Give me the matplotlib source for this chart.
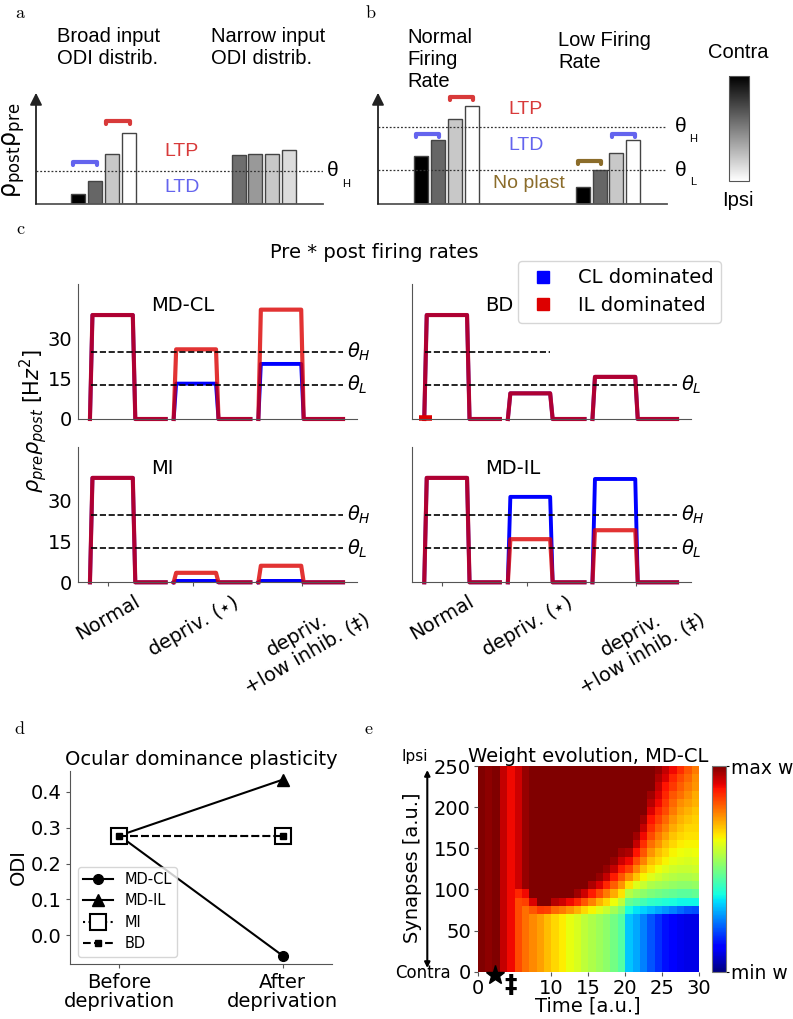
import numpy as np
import matplotlib
matplotlib.use('Agg')
import matplotlib.pyplot as plt
from matplotlib.lines import Line2D
from matplotlib.colors import Normalize
from matplotlib.cm import ScalarMappable

plt.rcParams['font.family'] = ['DejaVu Sans']
plt.rcParams['mathtext.fontset'] = 'dejavusans'
SANS2 = 'Liberation Sans'

# ---------------- data ----------------
# panel a (relative rho_post*rho_pre)
a_broad_pos = [2.5, 3.5, 4.5, 5.5]
a_broad_h = [0.092, 0.211, 0.459, 0.651]
a_narrow_pos = [12, 13, 14, 15]
a_narrow_h = [0.45, 0.459, 0.459, 0.495]
a_theta_H = 0.303
a_broad_colors = ['black', '#666666', '#c8c8c8', 'white']
a_narrow_colors = ['#6e6e6e', '#999999', '#c8c8c8', '#dcdcdc']

# panel b
b_normal_pos = [2.53, 3.53, 4.53, 5.53]
b_normal_h = [0.44, 0.587, 0.78, 0.90]
b_low_pos = [12.06, 13.06, 14.0, 15.0]
b_low_h = [0.156, 0.312, 0.468, 0.587]
b_theta_H = 0.706
b_theta_L = 0.312
b_colors = ['black', '#666666', '#c8c8c8', 'white']

# panel c: pre*post firing rates per condition [Normal, depriv, depriv+low inhib]
cond_labels = ['Normal', 'depriv. ($\\star$)', 'depriv.\n+low inhib. (‡)']
cond_ticks = [3.0, 11.55, 22.5]
cond_rise = [1.2, 9.6, 18.1]
cond_fall = [5.5, 13.85, 22.4]
cond_end = [8.8, 17.3, 26.6]
theta_H = 25.0
theta_L = 12.5
mdcl_cl = [38.5, 13.1, 20.4]
mdcl_il = [38.5, 25.8, 40.5]
bd_cl = [38.5, 9.5, 15.6]
bd_il = [38.5, 9.5, 15.6]
mi_cl = [38.5, 0.5, 0.5]
mi_il = [38.5, 3.5, 6.1]
mdil_cl = [38.5, 31.5, 38.1]
mdil_il = [38.5, 15.9, 19.2]

# panel d
d_xlabels = ['Before\ndeprivation', 'After\ndeprivation']
odi_mdcl = [0.278, -0.057]
odi_mdil = [0.278, 0.434]
odi_mi = [0.278, 0.278]
odi_bd = [0.278, 0.278]

# panel e: weight per time column (30) as runs over 25 synapse bins (bottom->top)
hm_runs = [
    [[1.0, 25]],
    [[0.985, 25]],
    [[1.0, 25]],
    [[0.94, 25]],
    [[0.9, 25]],
    [[0.83, 9], 0.87, [0.93, 15]],
    [[0.79, 8], 0.84, 0.9, [0.98, 15]],
    [[0.765, 7], 0.82, 0.92, [1.0, 16]],
    [[0.74, 7], 0.85, [1.0, 17]],
    [[0.71, 7], 0.84, [1.0, 17]],
    [[0.68, 7], 0.8, 0.95, [1.0, 16]],
    [[0.66, 7], 0.78, 0.93, [1.0, 16]],
    [[0.63, 7], 0.75, 0.9, [1.0, 16]],
    [[0.61, 7], 0.72, 0.87, 0.97, [1.0, 15]],
    [[0.58, 7], 0.68, 0.82, 0.93, [1.0, 15]],
    [[0.56, 7], 0.65, 0.77, 0.88, 0.96, [1.0, 14]],
    [[0.54, 7], 0.62, 0.72, 0.83, 0.92, 0.98, [1.0, 13]],
    [[0.52, 7], 0.59, 0.68, 0.78, 0.87, 0.94, 0.98, [1.0, 12]],
    [[0.49, 7], 0.55, 0.64, 0.73, 0.81, 0.88, 0.94, 0.98, [1.0, 11]],
    [[0.45, 7], 0.5, 0.58, 0.67, 0.75, 0.82, 0.88, 0.93, 0.97, [1.0, 10]],
    [[0.32, 7], 0.38, 0.47, 0.57, 0.67, 0.76, 0.84, 0.9, 0.96, [1.0, 10]],
    [[0.29, 7], 0.35, 0.45, 0.54, 0.62, 0.7, 0.77, 0.83, 0.89, 0.94, 0.97, [1.0, 8]],
    [[0.25, 7], 0.33, 0.43, 0.52, 0.59, 0.65, 0.71, 0.77, 0.82, 0.86, 0.9, 0.94, 0.97, [1.0, 6]],
    [[0.21, 7], 0.31, 0.41, 0.5, 0.56, 0.62, 0.67, 0.71, 0.75, 0.79, 0.83, 0.86, 0.89, 0.92, 0.95, 0.97, [1.0, 3]],
    [[0.17, 7], 0.29, 0.4, 0.49, 0.55, 0.6, 0.64, 0.68, 0.71, 0.75, 0.78, 0.81, 0.84, 0.87, 0.9, 0.92, 0.94, 0.96, 0.98],
    [[0.14, 7], 0.27, 0.39, 0.48, 0.54, 0.58, 0.62, 0.65, 0.68, 0.71, 0.74, 0.77, 0.8, 0.83, 0.85, 0.87, 0.89, 0.92, 0.94],
    [[0.12, 7], 0.25, 0.38, 0.47, 0.53, 0.57, 0.6, 0.63, 0.65, 0.68, 0.7, 0.73, 0.75, 0.78, 0.8, 0.82, 0.85, 0.87, 0.9],
    [[0.10, 7], 0.23, 0.37, 0.46, 0.52, 0.56, 0.59, 0.62, 0.64, 0.66, 0.68, 0.7, 0.72, 0.74, 0.76, 0.79, 0.81, 0.83, 0.86],
    [[0.09, 7], 0.21, 0.37, 0.46, 0.52, 0.56, 0.59, 0.61, 0.63, 0.65, 0.67, 0.68, 0.7, 0.72, 0.74, 0.76, 0.78, 0.8, 0.82],
    [[0.09, 7], 0.2, 0.37, 0.47, 0.53, 0.57, 0.6, 0.62, 0.64, 0.65, 0.67, 0.68, 0.69, 0.7, 0.72, 0.73, 0.75, 0.76, 0.78],
]
hm_time_edges = list(range(31))
hm_syn_edges = list(range(0, 251, 10))

# ---------------- figure ----------------
W, H = 793, 1019
fig = plt.figure(figsize=(W / 100, H / 100), dpi=100)


def add_ax(l, t, r, b):
    return fig.add_axes([l / W, 1 - b / H, (r - l) / W, (b - t) / H])


def ftext(x, y, s, **kw):
    kw.setdefault('ha', 'center')
    kw.setdefault('va', 'center')
    return fig.text(x / W, 1 - y / H, s, **kw)


# panel letters
for lab, (x, y) in zip('abcde', [(20, 13), (371, 13), (21, 229), (20, 729), (369, 729)]):
    ftext(x, y, r'$\mathrm{%s}$' % lab, fontsize=13, math_fontfamily='cm')

LTP_C = '#d83a3a'
LTD_C = '#6464ee'
NOP_C = '#8b6c2a'


def bracket(ax, x0, x1, y, color):
    ax.plot([x0, x0, x1, x1], [y - 0.025, y, y, y - 0.025], color=color, lw=3,
            solid_capstyle='round', solid_joinstyle='round', clip_on=False)


def schematic_axes(l, r):
    ax = add_ax(l, 95, r, 204)
    ax.set_xlim(0, 17)
    ax.set_ylim(0, 1)
    ax.axis('off')
    ax.plot([0, 17], [0, 0], color='#555555', lw=1.3, clip_on=False)
    ax.annotate('', xy=(0, 1.02), xytext=(0, 0),
                arrowprops=dict(arrowstyle='-|>', color='#222222', lw=1.3,
                                mutation_scale=18, shrinkA=0, shrinkB=0),
                annotation_clip=False)
    return ax


# ---- panel a ----
axa = schematic_axes(36, 323)
axa.bar(a_broad_pos, a_broad_h, width=0.83, color=a_broad_colors, edgecolor='#444444', lw=1)
axa.bar(a_narrow_pos, a_narrow_h, width=0.83, color=a_narrow_colors, edgecolor='#444444', lw=1)
axa.plot([0, 17], [a_theta_H, a_theta_H], ls=(0, (1.5, 1.5)), color='#333333', lw=0.9)
bracket(axa, 2.2, 3.6, 0.385, LTD_C)
bracket(axa, 4.15, 5.57, 0.761, LTP_C)
ftext(182, 152, 'LTP', fontsize=14, color=LTP_C, family=SANS2)
ftext(182, 188, 'LTD', fontsize=14, color=LTD_C, family=SANS2)
ftext(333, 170, 'θ', fontsize=15, family=SANS2)
ftext(346, 184, 'H', fontsize=8, family=SANS2)
ftext(57, 48, 'Broad input\nODI distrib.', fontsize=14.5, family=SANS2, ha='left')
ftext(211, 48, 'Narrow input\nODI distrib.', fontsize=14.5, family=SANS2, ha='left')
ftext(14, 150, r'$\mathrm{\rho_{post}\rho_{pre}}$', fontsize=17, rotation=90)

# ---- panel b ----
axb = schematic_axes(378, 667)
axb.bar(b_normal_pos, b_normal_h, width=0.83, color=b_colors, edgecolor='#444444', lw=1)
axb.bar(b_low_pos, b_low_h, width=0.83, color=b_colors, edgecolor='#444444', lw=1)
for th in (b_theta_H, b_theta_L):
    axb.plot([0, 17], [th, th], ls=(0, (1.5, 1.5)), color='#333333', lw=0.9)
bracket(axb, 2.24, 3.59, 0.642, LTD_C)
bracket(axb, 4.24, 5.59, 0.982, LTP_C)
bracket(axb, 11.76, 13.1, 0.394, NOP_C)
bracket(axb, 13.76, 15.1, 0.642, LTD_C)
ftext(526, 109, 'LTP', fontsize=14, color=LTP_C, family=SANS2)
ftext(526, 146, 'LTD', fontsize=14, color=LTD_C, family=SANS2)
ftext(529, 183, 'No plast', fontsize=14, color=NOP_C, family=SANS2)
ftext(681, 127, 'θ', fontsize=15, family=SANS2)
ftext(693, 139, 'H', fontsize=8, family=SANS2)
ftext(681, 170, 'θ', fontsize=15, family=SANS2)
ftext(693, 182, 'L', fontsize=8, family=SANS2)
ftext(407, 59.5, 'Normal\nFiring\nRate', fontsize=14.5, family=SANS2, ha='left')
ftext(558, 51.5, 'Low Firing\nRate', fontsize=14.5, family=SANS2, ha='left')

# grey colorbar
cax_ab = add_ax(729, 76, 749, 181)
cb_ab = fig.colorbar(ScalarMappable(norm=Normalize(0, 1), cmap='gray_r'), cax=cax_ab)
cb_ab.set_ticks([])
cb_ab.outline.set_edgecolor('#555555')
ftext(738, 52, 'Contra', fontsize=14.5, family=SANS2)
ftext(738, 200, 'Ipsi', fontsize=14.5, family=SANS2)

# ---- panel c ----
ftext(374.5, 253, 'Pre * post firing rates', fontsize=14)
BLUE = '#0000ff'
RED = (0.86, 0.0, 0.0)
c_panels = [
    ('MD-CL', (78, 284, 357, 419), mdcl_cl, mdcl_il, True, False, True),
    ('BD', (412.3, 284, 691, 419), bd_cl, bd_il, False, False, False),
    ('MI', (78, 446.7, 357, 582.3), mi_cl, mi_il, True, True, True),
    ('MD-IL', (412.3, 446.7, 691, 582.3), mdil_cl, mdil_il, False, True, True),
]
for name, pos, cl, il, left, bottom, full_H in c_panels:
    ax = add_ax(*pos)
    ax.set_xlim(0, 28)
    ax.set_ylim(0, 50)
    for i in range(3):
        xs = [cond_rise[i], cond_rise[i] + 0.25, cond_fall[i], cond_fall[i] + 0.25, cond_end[i]]
        ax.plot(xs, [0, cl[i], cl[i], 0, 0], color=BLUE, lw=2.8, clip_on=False)
        ax.plot(xs, [0, il[i], il[i], 0, 0], color=RED, alpha=0.8, lw=3.0, clip_on=False)
    hx_end = cond_end[2] if full_H else cond_fall[1]
    ax.plot([cond_rise[0] + 0.1, hx_end], [theta_H, theta_H], ls='--', color='k', lw=1.2)
    ax.plot([cond_rise[0] + 0.1, cond_end[2]], [theta_L, theta_L], ls='--', color='k', lw=1.2)
    if full_H:
        ax.text(27.0, theta_H, r'$\theta_H$', fontsize=14, ha='left', va='center')
    ax.text(27.0, theta_L, r'$\theta_L$', fontsize=14, ha='left', va='center')
    ax.text(7.3, 42, name, fontsize=14, ha='left', va='center')
    for s in ('top', 'right'):
        ax.spines[s].set_visible(False)
    for s in ('left', 'bottom'):
        ax.spines[s].set_color('#555555')
    ax.set_yticks([0, 15, 30])
    ax.tick_params(axis='y', labelsize=14, length=0, pad=4)
    if not left:
        ax.set_yticklabels([])
    if bottom:
        ax.set_xticks(cond_ticks)
        ax.set_xticklabels(cond_labels, rotation=30, ha='center', fontsize=14, multialignment='center')
        ax.tick_params(axis='x', length=3, color='#555555')
    else:
        ax.set_xticks([])
    if name == 'BD':
        ax.plot([0.7, 2.0], [0.4, 0.4], color='#dd0000', lw=4, solid_capstyle='butt', clip_on=False)

ftext(33, 421, r'$\rho_{pre}\rho_{post}$ [H$z^2$]', fontsize=15, rotation=90)

leg_handles = [Line2D([], [], marker='s', ls='', color=BLUE, ms=9, label='CL dominated'),
               Line2D([], [], marker='s', ls='', color='#dd0000', ms=9, label='IL dominated')]
fig.legend(handles=leg_handles, loc='upper left', bbox_to_anchor=(517.7 / W, 1 - 260.7 / H),
           fontsize=14, borderaxespad=0, borderpad=0.4, handlelength=1.8, handletextpad=0.9,
           labelspacing=0.45, frameon=True)

# ---- panel d ----
axd = add_ax(70.3, 770.7, 331.7, 964.3)
xd = [0, 1]
axd.plot(xd, odi_mdcl, color='k', marker='o', ms=7, lw=1.5, label='MD-CL')
axd.plot(xd, odi_mdil, color='k', marker='^', ms=8, lw=1.5, label='MD-IL')
axd.plot(xd, odi_mi, color='k', marker='s', ms=12, mfc='white', mec='k', mew=1.5, ls=':', lw=1.5, label='MI')
axd.plot(xd, odi_bd, color='k', marker='s', ms=4, ls='--', lw=1.5, label='BD')
axd.set_xlim(-0.3, 1.3)
axd.set_ylim(-0.081, 0.459)
axd.set_xticks(xd)
axd.set_xticklabels(d_xlabels, fontsize=14, linespacing=1.0)
axd.set_yticks([0.0, 0.1, 0.2, 0.3, 0.4])
axd.tick_params(labelsize=14, length=3, color='#555555')
axd.set_ylabel('ODI', fontsize=14, labelpad=2)
axd.set_title('Ocular dominance plasticity', fontsize=14, pad=4)
for s in ('top', 'right'):
    axd.spines[s].set_visible(False)
for s in ('left', 'bottom'):
    axd.spines[s].set_color('#555555')
hd, ld = axd.get_legend_handles_labels()
fig.legend(handles=hd, labels=ld,
           loc='upper left', bbox_to_anchor=(78 / W, 1 - 866.7 / H), fontsize=10.5,
           borderaxespad=0, borderpad=0.35, handlelength=2.05, handletextpad=0.8,
           labelspacing=0.45, frameon=True)

# ---- panel e ----
weights = []
for col in hm_runs:
    vals = []
    for entry in col:
        if isinstance(entry, list):
            vals += [entry[0]] * entry[1]
        else:
            vals.append(entry)
    weights.append(vals[:25])
weights = np.array(weights).T  # rows = synapse bins, cols = time

axe = add_ax(477.7, 766, 699, 971.7)
mesh = axe.pcolormesh(hm_time_edges, hm_syn_edges, weights, cmap='jet', vmin=0, vmax=1)
axe.set_xlim(0, 30)
axe.set_ylim(0, 250)
for s in axe.spines.values():
    s.set_visible(False)
axe.set_xticks([0, 10, 15, 20, 25, 30])
axe.set_yticks([0, 50, 100, 150, 200, 250])
axe.tick_params(labelsize=14, length=3, color='#555555', pad=2)
axe.set_title('Weight evolution, MD-CL', fontsize=14, pad=3)
axe.plot([2.4], [-4], marker='*', ms=14, color='k', clip_on=False)
axe.text(4.4, -16, '‡', fontsize=18, fontweight='bold', ha='center', va='center')
ftext(588, 1006, 'Time [a.u.]', fontsize=14)
ftext(412, 868, 'Synapses [a.u.]', fontsize=14, rotation=90)
ftext(415, 757, 'Ipsi', fontsize=11)
ftext(451, 973, 'Contra', fontsize=12, ha='right')
axe.annotate('', xy=(427.3, H - 770), xytext=(427.3, H - 968), xycoords='figure pixels',
             textcoords='figure pixels',
             arrowprops=dict(arrowstyle='<|-|>', color='k', lw=1.5, mutation_scale=8,
                             shrinkA=0, shrinkB=0), annotation_clip=False)

cax_e = add_ax(712.3, 766, 725.7, 971.7)
cb_e = fig.colorbar(mesh, cax=cax_e, ticks=[0, 1])
cb_e.set_ticklabels(['min w', 'max w'])
cb_e.ax.tick_params(labelsize=13.5, length=2, pad=2)
cb_e.outline.set_edgecolor('#777777')

fig.savefig('out.png', dpi=100)
